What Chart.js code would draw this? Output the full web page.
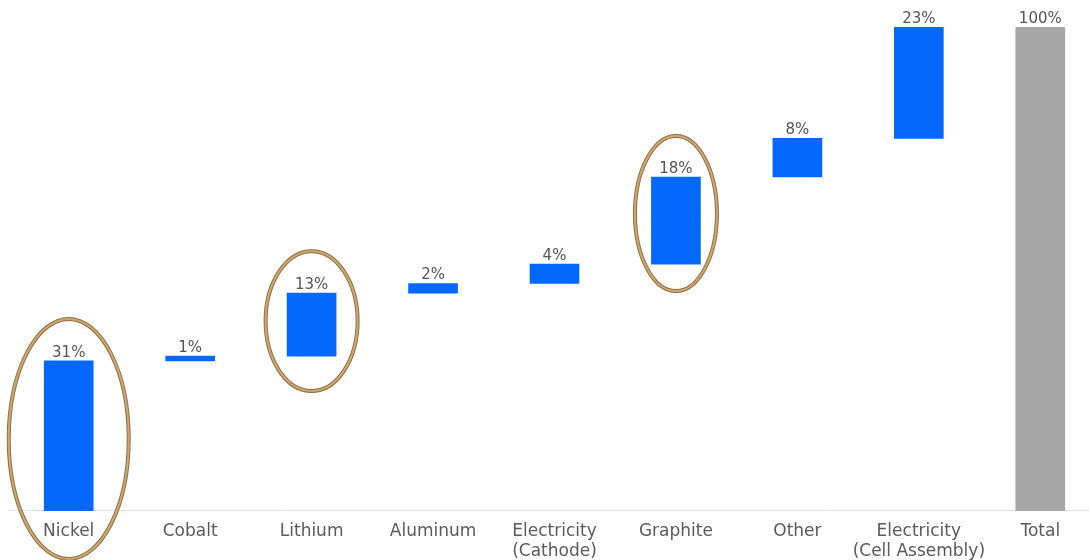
<!DOCTYPE html>
<html>
<head>
<meta charset="utf-8">
<script src="https://cdn.jsdelivr.net/npm/chart.js@4/dist/chart.umd.min.js"></script>
<style>
  html, body { margin: 0; padding: 0; background: #fff; overflow: hidden; }
  #wrap { position: relative; width: 1101px; height: 560px; }
</style>
</head>
<body>
<div id="wrap"><canvas id="c"></canvas></div>
<script>
// Cost breakdown of a battery cell, as a waterfall
const categories = ['Nickel', 'Cobalt', 'Lithium', 'Aluminum', ['Electricity', '(Cathode)'],
                    'Graphite', 'Other', ['Electricity', '(Cell Assembly)'], 'Total'];
const shares = [31, 1, 13, 2, 4, 18, 8, 23];   // percent of total cost per component
const totalShare = 100;
const highlighted = ['Nickel', 'Lithium', 'Graphite'];

// floating ranges: each component starts where the previous one ended
const ranges = [];
let running = 0;
shares.forEach(v => { ranges.push([running, running + v]); running += v; });
ranges.push([0, totalShare]);
const valueLabels = shares.concat([totalShare]);
const barColors = shares.map(() => '#0568FD').concat(['#A6A6A6']);

// ring geometry around the highlighted bars: [extra above, extra below, half width]
const ringPad = { Nickel: [42, 48, 60], Lithium: [42, 35, 46], Graphite: [41, 27, 41] };

const valueLabelPlugin = {
  id: 'valueLabels',
  afterDatasetsDraw(chart) {
    const ctx = chart.ctx;
    const meta = chart.getDatasetMeta(0);
    ctx.save();
    ctx.font = '15px "DejaVu Sans", sans-serif';
    ctx.fillStyle = '#555555';
    ctx.textAlign = 'center';
    ctx.textBaseline = 'alphabetic';
    meta.data.forEach((bar, i) => {
      const top = Math.min(bar.y, bar.base);
      ctx.fillText(valueLabels[i] + '%', bar.x, top - 4);
    });
    ctx.restore();
  }
};

const ringPlugin = {
  id: 'rings',
  afterDraw(chart) {
    const ctx = chart.ctx;
    const meta = chart.getDatasetMeta(0);
    ctx.save();
    highlighted.forEach(name => {
      const i = categories.indexOf(name);
      const bar = meta.data[i];
      const top = Math.min(bar.y, bar.base);
      const bottom = Math.max(bar.y, bar.base);
      const p = ringPad[name];
      const y0 = top - p[0], y1 = bottom + p[1];
      const cy = (y0 + y1) / 2, ry = (y1 - y0) / 2;
      ctx.beginPath();
      ctx.ellipse(bar.x, cy, p[2], ry, 0, 0, Math.PI * 2);
      ctx.lineWidth = 4;
      ctx.strokeStyle = '#94703F';
      ctx.stroke();
      ctx.lineWidth = 2;
      ctx.strokeStyle = '#CBA878';
      ctx.stroke();
    });
    ctx.restore();
  }
};

new Chart(document.getElementById('c'), {
  type: 'bar',
  data: {
    labels: categories,
    datasets: [{
      data: ranges,
      backgroundColor: barColors,
      borderWidth: 0,
      borderSkipped: false,
      barThickness: 49
    }]
  },
  options: {
    responsive: true,
    maintainAspectRatio: false,
    animation: false,
    layout: { padding: { left: 8, right: 0, top: 27, bottom: -12 } },
    plugins: { legend: { display: false }, tooltip: { enabled: false } },
    scales: {
      x: {
        grid: { display: false, drawTicks: false },
        border: { display: true, color: '#DEDEDE', width: 1 },
        ticks: {
          color: '#5A5A5A',
          padding: 11,
          maxRotation: 0,
          autoSkip: false,
          font: { family: '"DejaVu Sans", sans-serif', size: 17, lineHeight: 1.15 }
        }
      },
      y: { display: false, min: 0, max: 100 }
    }
  },
  plugins: [valueLabelPlugin, ringPlugin]
});
</script>
</body>
</html>
